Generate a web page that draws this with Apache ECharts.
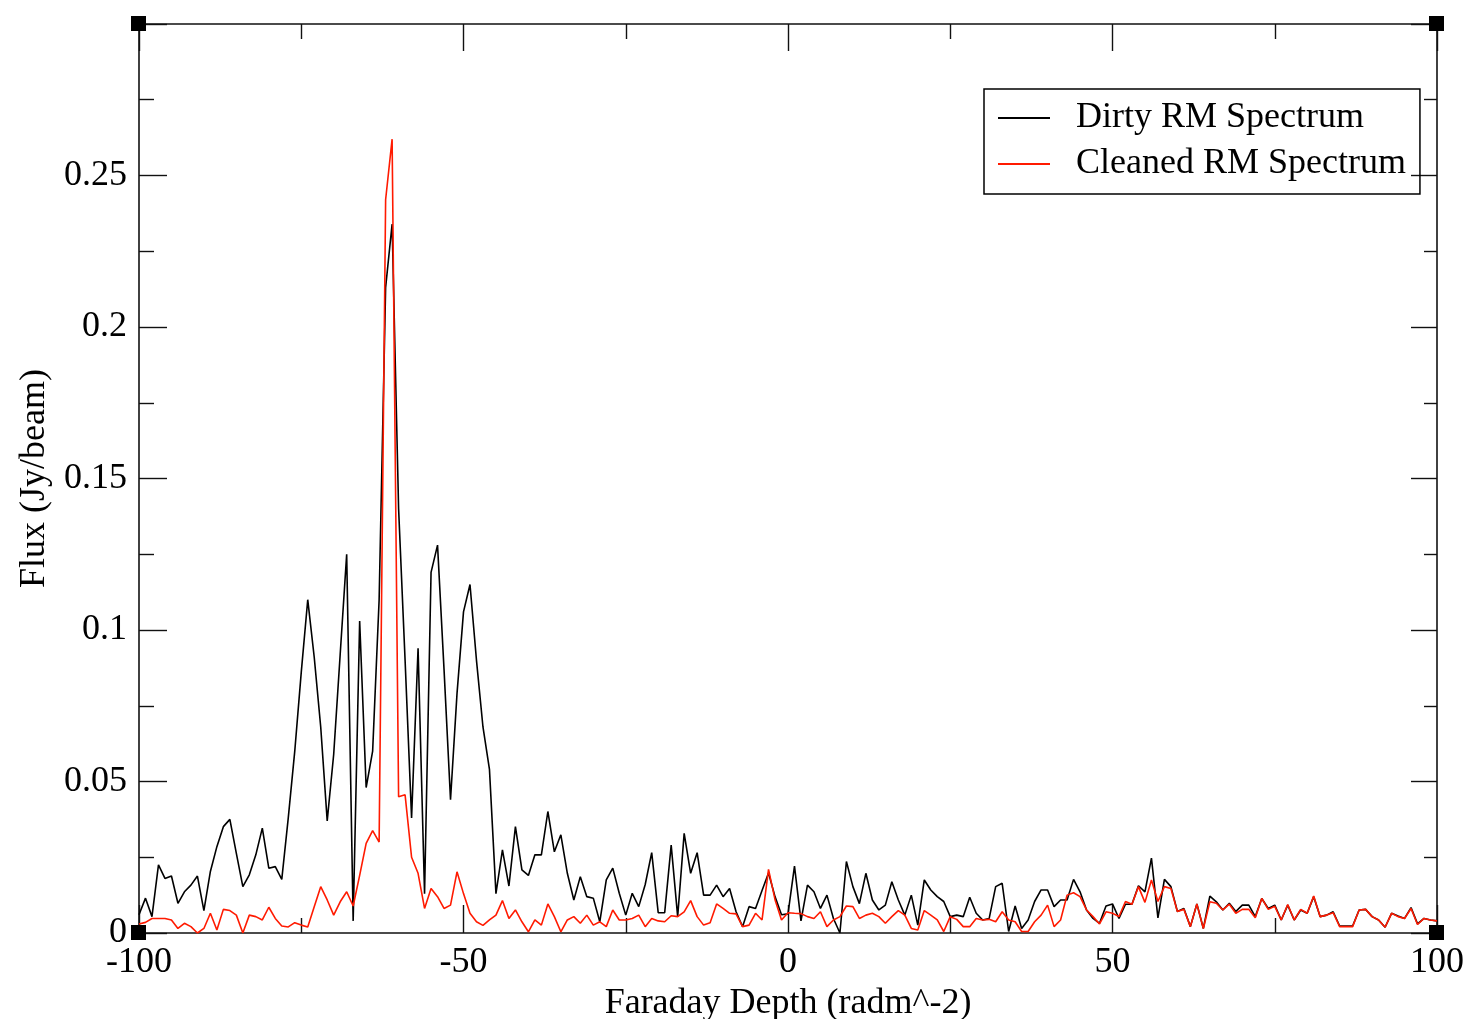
<!DOCTYPE html>
<html>
<head>
<meta charset="utf-8">
<script src="https://cdn.jsdelivr.net/npm/echarts@6/dist/echarts.min.js"></script>
<style>
html,body{margin:0;padding:0;background:#fff;}
#chart{width:1467px;height:1019px;}
</style>
</head>
<body>
<div id="chart"></div>
<script>
// Faraday depth grid (rad m^-2): -100 .. 100, step 1
const depthStart = -100;
const depthStep = 1;

const dirtySpectrum = [
0.006,0.0115,0.0054,0.0225,0.018,0.0188,0.0098,0.0136,0.0158,0.0188,
0.0074,0.0203,0.0285,0.0351,0.0375,0.0263,0.0153,0.0192,0.0258,0.0346,
0.0214,0.0219,0.0177,0.038,0.060,0.086,0.110,0.091,0.068,0.037,
0.059,0.092,0.125,0.004,0.103,0.048,0.060,0.110,0.213,0.234,
0.140,0.090,0.038,0.094,0.013,0.119,0.128,0.087,0.044,0.079,
0.106,0.115,0.090,0.068,0.054,0.013,0.0274,0.0155,0.0351,0.0208,
0.019,0.0258,0.0258,0.0401,0.0268,0.0324,0.0197,0.0109,0.0186,0.012,
0.0115,0.0037,0.0175,0.0214,0.0131,0.0059,0.0131,0.0087,0.016,0.0265,
0.0067,0.0067,0.029,0.0054,0.0329,0.0197,0.0265,0.0125,0.0125,0.0158,
0.012,0.0147,0.007,0.0021,0.0087,0.0081,0.014,0.0198,0.012,0.006,
0.0063,0.0221,0.004,0.0158,0.0136,0.0081,0.0125,0.0048,0.0,0.0236,
0.0153,0.0097,0.0197,0.0109,0.0076,0.0092,0.0169,0.0109,0.0059,0.0125,
0.0026,0.0175,0.0142,0.012,0.0104,0.0054,0.0059,0.0054,0.0118,0.0065,
0.0043,0.0048,0.0153,0.0164,0.0005,0.0089,0.0015,0.0043,0.0104,0.0142,
0.0142,0.0087,0.0109,0.0109,0.0177,0.0136,0.0076,0.0048,0.0032,0.0089,
0.0096,0.0048,0.0095,0.0095,0.0156,0.0136,0.0247,0.005,0.0177,0.0153,
0.0071,0.0081,0.0021,0.0096,0.0015,0.0122,0.0103,0.0076,0.0098,0.0071,
0.0092,0.0092,0.0054,0.0114,0.0081,0.0092,0.0043,0.0092,0.0043,0.0076,
0.0065,0.012,0.0054,0.0059,0.007,0.0023,0.0023,0.0023,0.0076,0.0078,
0.0054,0.0043,0.0019,0.0065,0.0056,0.0048,0.0084,0.003,0.0048,0.0043,
0.0040
];

const cleanedSpectrum = [
0.003,0.0035,0.0048,0.0048,0.0048,0.0043,0.0015,0.0032,0.0021,0.0,
0.0015,0.0065,0.001,0.0078,0.0074,0.0059,0.0,0.0059,0.0054,0.0043,
0.0085,0.0048,0.0023,0.002,0.0034,0.0026,0.002,0.0087,0.0153,0.0109,
0.0059,0.0103,0.0136,0.0089,0.019,0.0296,0.0338,0.030,0.242,0.262,
0.045,0.0456,0.025,0.0197,0.0081,0.0147,0.012,0.0081,0.0092,0.0202,
0.013,0.0065,0.0037,0.0025,0.0043,0.0059,0.0107,0.0048,0.0076,0.0037,
0.0004,0.0043,0.0026,0.0096,0.0054,0.0004,0.0043,0.0054,0.0032,0.0059,
0.0026,0.0037,0.0021,0.0076,0.0043,0.0043,0.0048,0.0059,0.0021,0.0048,
0.004,0.0037,0.0057,0.0054,0.007,0.0107,0.0054,0.0026,0.0034,0.0096,
0.0081,0.0065,0.0063,0.0021,0.0026,0.0065,0.0043,0.021,0.011,0.0043,
0.0067,0.0065,0.0064,0.0054,0.0048,0.007,0.0021,0.0043,0.0054,0.0089,
0.0087,0.0048,0.0059,0.0065,0.0054,0.0032,0.0054,0.0074,0.0059,0.0015,
0.001,0.0074,0.0059,0.0043,0.0005,0.0054,0.0045,0.0021,0.0021,0.0048,
0.0043,0.0045,0.0037,0.007,0.0043,0.0037,0.0005,0.0005,0.0037,0.0059,
0.0092,0.0021,0.0043,0.0125,0.0133,0.012,0.0076,0.0054,0.003,0.007,
0.0065,0.0054,0.0104,0.0095,0.0153,0.0101,0.0175,0.0104,0.0153,0.0147,
0.0071,0.0078,0.0021,0.0096,0.0015,0.0103,0.0098,0.0076,0.0095,0.0065,
0.0078,0.0078,0.005,0.0114,0.0078,0.0088,0.0043,0.0094,0.0043,0.0078,
0.0065,0.0122,0.0054,0.0059,0.0067,0.0021,0.0021,0.0021,0.0076,0.0078,
0.0054,0.0043,0.0019,0.0065,0.0054,0.0048,0.0081,0.0028,0.0048,0.0043,
0.0040
];

const xTicks = [-100, -50, 0, 50, 100];
const yTicks = [0, 0.05, 0.1, 0.15, 0.2, 0.25, 0.3];
const seriesNames = ['Dirty RM Spectrum', 'Cleaned RM Spectrum'];
const xTitle = 'Faraday Depth (radm^-2)';
const yTitle = 'Flux (Jy/beam)';

const depth = dirtySpectrum.map((_, i) => depthStart + i * depthStep);
const dirtyPts = dirtySpectrum.map((v, i) => [depth[i], v]);
const cleanPts = cleanedSpectrum.map((v, i) => [depth[i], v]);

const FONT = '"Liberation Serif", "Times New Roman", serif';
const FS = 36;
const AX = '#111';

function axisCommon(showLabel, majorLen, minorLen) {
  return {
    axisLine: { show: true, onZero: false, lineStyle: { color: AX, width: 1.6 } },
    axisTick: { show: true, inside: true, length: majorLen, lineStyle: { color: AX, width: 1.4 } },
    minorTick: { show: true, splitNumber: 2, length: minorLen, lineStyle: { color: AX, width: 1.4 } },
    splitLine: { show: false },
    minorSplitLine: { show: false },
    axisLabel: { show: showLabel, color: '#000', fontFamily: FONT, fontSize: FS }
  };
}

const chart = echarts.init(document.getElementById('chart'), null, { renderer: 'canvas' });

const option = {
  backgroundColor: '#fff',
  animation: false,
  grid: { left: 139, right: 30, top: 24, bottom: 86, containLabel: false, outerBoundsMode: 'none' },
  legend: {
    orient: 'vertical',
    left: 984,
    top: 89,
    padding: [11, 14, 12, 14],
    borderColor: '#000',
    borderWidth: 1.5,
    itemWidth: 52,
    itemHeight: 2,
    itemGap: 10,
    icon: 'rect',
    textStyle: { fontFamily: FONT, fontSize: FS, color: '#000', lineHeight: 36, padding: [0, 0, 0, 21] },
    data: seriesNames
  },
  xAxis: [
    Object.assign({
      type: 'value', position: 'bottom', min: xTicks[0], max: xTicks[xTicks.length - 1],
      interval: xTicks[1] - xTicks[0],
      name: xTitle, nameLocation: 'middle', nameGap: 50,
      nameTextStyle: { fontFamily: FONT, fontSize: FS, color: '#000' }
    }, axisCommon(true, 28, 15), { axisLabel: { show: true, color: '#000', fontFamily: FONT, fontSize: FS, margin: 12 } }),
    Object.assign({
      type: 'value', position: 'top', min: xTicks[0], max: xTicks[xTicks.length - 1],
      interval: xTicks[1] - xTicks[0]
    }, axisCommon(false, 27, 15))
  ],
  yAxis: [
    Object.assign({
      type: 'value', position: 'left', min: yTicks[0], max: yTicks[yTicks.length - 1],
      interval: yTicks[1] - yTicks[0],
      name: yTitle, nameLocation: 'middle', nameGap: 86,
      nameTextStyle: { fontFamily: FONT, fontSize: FS, color: '#000' }
    }, axisCommon(true, 28, 15), {
      axisLabel: {
        show: true, color: '#000', fontFamily: FONT, fontSize: FS, margin: 12,
        formatter: function (v) { return Math.abs(v - 0.3) < 1e-9 ? '' : String(+v.toFixed(3)); }
      }
    }),
    Object.assign({
      type: 'value', position: 'right', min: yTicks[0], max: yTicks[yTicks.length - 1],
      interval: yTicks[1] - yTicks[0]
    }, axisCommon(false, 26, 13))
  ],
  series: [
    {
      name: seriesNames[0], type: 'line', data: dirtyPts, xAxisIndex: 0, yAxisIndex: 0,
      showSymbol: false, symbol: 'none', color: '#000',
      lineStyle: { color: '#000', width: 1.6 }, z: 2
    },
    {
      name: seriesNames[1], type: 'line', data: cleanPts, xAxisIndex: 0, yAxisIndex: 0,
      showSymbol: false, symbol: 'none', color: '#ff1a00',
      lineStyle: { color: '#ff1a00', width: 1.6 }, z: 3
    }
  ]
};

chart.setOption(option);

// focus markers at the four corners of the plot frame
const corners = [
  [xTicks[0], yTicks[0]], [xTicks[xTicks.length - 1], yTicks[0]],
  [xTicks[0], yTicks[yTicks.length - 1]], [xTicks[xTicks.length - 1], yTicks[yTicks.length - 1]]
];
const graphics = corners.map(c => {
  const p = chart.convertToPixel({ xAxisIndex: 0, yAxisIndex: 0 }, c);
  return {
    type: 'rect', z: 100,
    shape: { x: Math.round(p[0]) - 8, y: Math.round(p[1]) - 8, width: 15, height: 15 },
    style: { fill: '#000' }
  };
});
chart.setOption({ graphic: graphics });
</script>
</body>
</html>
